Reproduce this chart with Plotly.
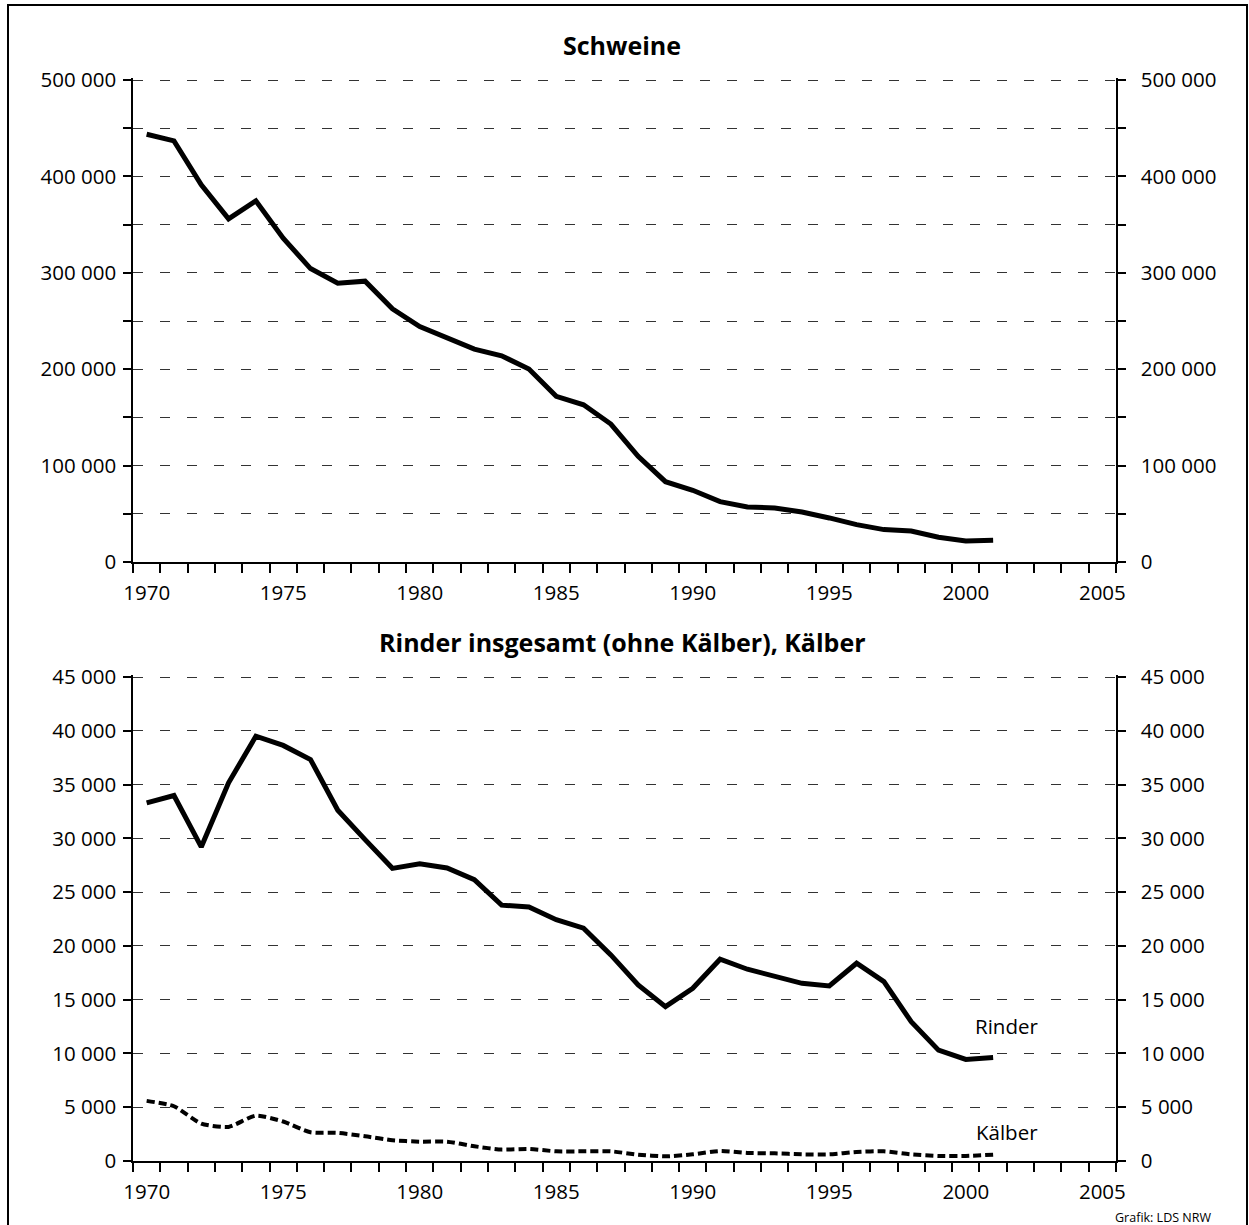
import plotly.graph_objects as go

# ---------------- data ----------------
years = list(range(1970, 2002))

schweine = [443700, 436800, 391200, 355900, 374600, 335900, 304400, 289200,
            291300, 262600, 244300, 232200, 220800, 213900, 200100, 171800,
            163100, 143100, 109600, 83300, 74400, 62600, 57100, 56000,
            51900, 45700, 38800, 33600, 32200, 25700, 21900, 22600]

rinder = [33300, 33980, 29200, 35160, 39500, 38640, 37330, 32610,
          29880, 27210, 27640, 27240, 26150, 23790, 23610, 22430,
          21650, 19160, 16370, 14350, 16060, 18760, 17830, 17210,
          16520, 16280, 18390, 16680, 12950, 10310, 9440, 9630]

kaelber = [5590, 5090, 3480, 3170, 4220, 3670, 2670, 2610,
           2300, 1930, 1800, 1800, 1370, 1060, 1120, 900,
           900, 900, 590, 430, 620, 930, 750, 710,
           620, 620, 840, 900, 620, 470, 470, 590]

x_label_vals = [1970, 1975, 1980, 1985, 1990, 1995, 2000, 2005]
x_label_text = ["1970", "1975", "1980", "1985", "1990", "1995", "2000", "2005"]

top_tick_vals = [0, 50000, 100000, 150000, 200000, 250000, 300000, 350000, 400000, 450000, 500000]
top_tick_text = ["0", "", "100 000", "", "200 000", "", "300 000", "", "400 000", "", "500 000"]

bot_tick_vals = [0, 5000, 10000, 15000, 20000, 25000, 30000, 35000, 40000, 45000]
bot_tick_text = ["0", "5 000", "10 000", "15 000", "20 000", "25 000", "30 000", "35 000", "40 000", "45 000"]

title_top = "<b>Schweine</b>"
title_bot = "<b>Rinder insgesamt (ohne Kälber), Kälber</b>"
label_rinder = "Rinder"
label_kaelber = "Kälber"
source = "Grafik: LDS NRW"

# ---------------- style ----------------
FONT = "Open Sans"
W, H = 1249, 1225
px_x = lambda p: p / W
px_y = lambda p: 1 - p / H

# small headroom so the top gridline is not clipped by plotly
PAD = 1.004
top_max, bot_max = 500000, 45000
top_bottom_px, top_top_px = 562, 80
bot_bottom_px, bot_top_px = 1161, 677
top_dom_top_px = top_bottom_px - (top_bottom_px - top_top_px) * PAD
bot_dom_top_px = bot_bottom_px - (bot_bottom_px - bot_top_px) * PAD

xdom = [px_x(133), px_x(1116)]
top_dom = [px_y(top_bottom_px), px_y(top_dom_top_px)]
bot_dom = [px_y(bot_bottom_px), px_y(bot_dom_top_px)]

fig = go.Figure()

fig.add_trace(go.Scatter(x=years, y=schweine, mode="lines", xaxis="x", yaxis="y",
                         line=dict(color="black", width=5), showlegend=False, hoverinfo="skip"))
fig.add_trace(go.Scatter(x=years, y=schweine, mode="lines", xaxis="x", yaxis="y3",
                         line=dict(color="rgba(0,0,0,0)", width=0), showlegend=False, hoverinfo="skip"))

fig.add_trace(go.Scatter(x=years, y=rinder, mode="lines", xaxis="x2", yaxis="y2",
                         line=dict(color="black", width=5), showlegend=False, hoverinfo="skip"))
fig.add_trace(go.Scatter(x=years, y=kaelber, mode="lines", xaxis="x2", yaxis="y2",
                         line=dict(color="black", width=4, dash="8px,4px", shape="spline", smoothing=0.6),
                         showlegend=False, hoverinfo="skip"))
fig.add_trace(go.Scatter(x=years, y=rinder, mode="lines", xaxis="x2", yaxis="y4",
                         line=dict(color="rgba(0,0,0,0)", width=0), showlegend=False, hoverinfo="skip"))

tickfont = dict(family=FONT, size=20.5, color="black")

def xaxis_cfg(anchor):
    return dict(domain=xdom, anchor=anchor, range=[1969.5, 2005.5], automargin=False,
                tickmode="array", tickvals=x_label_vals, ticktext=x_label_text,
                ticks="", ticklen=0, showgrid=False, zeroline=False,
                showline=True, linecolor="black", linewidth=2,
                tickfont=tickfont, ticklabelstandoff=11,
                minor=dict(tick0=1969.5, dtick=1, ticks="outside", ticklen=9,
                           tickwidth=1.5, tickcolor="black", showgrid=False))

def yaxis_cfg(domain, anchor, rng, vals, text, side="left", overlay=None, grid=True):
    d = dict(domain=domain, anchor=anchor, range=rng, side=side, automargin=False,
             tickmode="array", tickvals=vals, ticktext=text,
             ticks="outside", ticklen=8, tickwidth=1.5, tickcolor="black",
             showline=True, linecolor="black", linewidth=1.5,
             zeroline=False, tickfont=tickfont,
             ticklabelstandoff=(11 if side == "right" else 3),
             showgrid=grid, gridcolor="#333333", gridwidth=1, griddash="10px,17px")
    if overlay:
        d["overlaying"] = overlay
    return d

fig.update_layout(
    width=W, height=H, autosize=False,
    margin=dict(l=0, r=0, t=0, b=0, pad=0),
    paper_bgcolor="white", plot_bgcolor="white",
    font=dict(family=FONT, color="black"),
    xaxis=xaxis_cfg("y"),
    xaxis2=xaxis_cfg("y2"),
    yaxis=yaxis_cfg(top_dom, "x", [0, top_max * PAD], top_tick_vals, top_tick_text),
    yaxis3=yaxis_cfg(top_dom, "x", [0, top_max * PAD], top_tick_vals, top_tick_text,
                     side="right", overlay="y", grid=False),
    yaxis2=yaxis_cfg(bot_dom, "x2", [0, bot_max * PAD], bot_tick_vals, bot_tick_text),
    yaxis4=yaxis_cfg(bot_dom, "x2", [0, bot_max * PAD], bot_tick_vals, bot_tick_text,
                     side="right", overlay="y2", grid=False),
    showlegend=False,
)

fig.add_annotation(text=title_top, xref="paper", yref="paper", x=px_x(622), y=px_y(45),
                   xanchor="center", yanchor="middle", showarrow=False,
                   font=dict(family=FONT, size=25, color="black"))
fig.add_annotation(text=title_bot, xref="paper", yref="paper", x=px_x(622), y=px_y(642),
                   xanchor="center", yanchor="middle", showarrow=False,
                   font=dict(family=FONT, size=25, color="black"))
fig.add_annotation(text=label_rinder, xref="x2", yref="y2", x=2001.5, y=12550,
                   xanchor="center", yanchor="middle", showarrow=False,
                   font=dict(family=FONT, size=20.5, color="black"))
fig.add_annotation(text=label_kaelber, xref="x2", yref="y2", x=2001.5, y=2700,
                   xanchor="center", yanchor="middle", showarrow=False,
                   font=dict(family=FONT, size=20.5, color="black"))
fig.add_annotation(text=source, xref="paper", yref="paper", x=px_x(1213), y=px_y(1217),
                   xanchor="right", yanchor="middle", showarrow=False,
                   font=dict(family=FONT, size=12.5, color="black"))

fig.add_shape(type="rect", xref="paper", yref="paper",
              x0=px_x(8), y0=-0.01, x1=px_x(1247), y1=px_y(5),
              line=dict(color="black", width=2), fillcolor="rgba(0,0,0,0)", layer="below")

fig.write_html("out.html",
               config={"displayModeBar": False},
               post_script="document.body.style.margin='0';document.body.style.padding='0';"
                           "document.documentElement.style.overflow='hidden';")
